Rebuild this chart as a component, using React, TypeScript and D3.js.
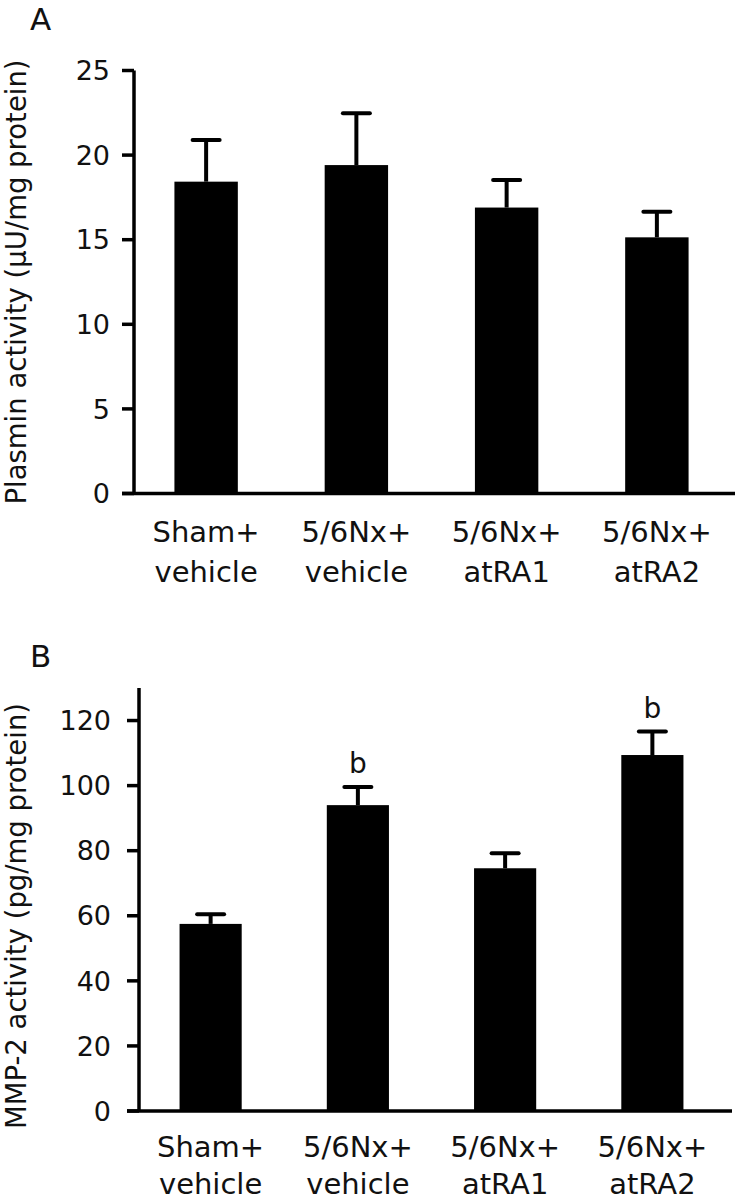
import React from "react";
import * as d3 from "d3";

const categories = ["Sham+|vehicle", "5/6Nx+|vehicle", "5/6Nx+|atRA1", "5/6Nx+|atRA2"];

const plasminMean = [18.43, 19.41, 16.9, 15.14];
const plasminErr = [2.46, 3.06, 1.63, 1.51];
const plasminTicks = [0, 5, 10, 15, 20, 25];

const mmpMean = [57.5, 94.0, 74.6, 109.4];
const mmpErr = [3.0, 5.6, 4.6, 7.2];
const mmpTicks = [0, 20, 40, 60, 80, 100, 120];
const mmpSig = ["", "b", "", "b"];

const FONT = "'DejaVu Sans', sans-serif";
const INK = "#111";

type PanelProps = {
  letter: string;
  letterY: number;
  yLabel: string;
  yLabelCenter: number;
  domainMax: number;
  yRange: [number, number];
  xRange: [number, number];
  axisX: number;
  axisXStart: number;
  axisXEnd: number;
  tickLabelX: number;
  means: number[];
  errs: number[];
  ticks: number[];
  sig?: string[];
  catOffset: number;
  catGap: number;
};

function Panel(p: PanelProps) {
  const y = d3.scaleLinear().domain([0, p.domainMax]).range(p.yRange);
  const x = d3
    .scaleBand<string>()
    .domain(categories)
    .range(p.xRange)
    .paddingInner(0.578)
    .paddingOuter(0.289);
  const bw = x.bandwidth();
  const y0 = y(0);
  const capW = 27;
  return (
    <g>
      <text x={30} y={p.letterY} fontFamily={FONT} fontSize={31} fill={INK}>
        {p.letter}
      </text>
      <text
        transform={`translate(26,${p.yLabelCenter}) rotate(-90)`}
        textAnchor="middle"
        fontFamily={FONT}
        fontSize={27.5}
        fill={INK}
      >
        {p.yLabel}
      </text>
      {categories.map((c, i) => {
        const cx = (x(c) as number) + bw / 2;
        const top = y(p.means[i]);
        const capY = y(p.means[i] + p.errs[i]);
        return (
          <g key={c}>
            <rect x={x(c)} y={top} width={bw} height={y0 - top} fill="#000" />
            <line x1={cx} x2={cx} y1={top} y2={capY} stroke="#000" strokeWidth={4} />
            <line
              x1={cx - capW / 2}
              x2={cx + capW / 2}
              y1={capY}
              y2={capY}
              stroke="#000"
              strokeWidth={4}
              strokeLinecap="round"
            />
            {p.sig && p.sig[i] ? (
              <text
                x={cx}
                y={capY - 14}
                textAnchor="middle"
                fontFamily={FONT}
                fontSize={28}
                fill={INK}
              >
                {p.sig[i]}
              </text>
            ) : null}
            {c.split("|").map((line, k) => (
              <text
                key={k}
                x={cx}
                y={y0 + p.catOffset + k * p.catGap}
                textAnchor="middle"
                fontFamily={FONT}
                fontSize={29}
                fill={INK}
              >
                {line}
              </text>
            ))}
          </g>
        );
      })}
      <line
        x1={p.axisX}
        x2={p.axisX}
        y1={y(p.domainMax)}
        y2={y0}
        stroke="#000"
        strokeWidth={3.5}
      />
      {p.ticks.map((t) => (
        <g key={t}>
          <line
            x1={p.axisXStart}
            x2={p.axisX}
            y1={y(t)}
            y2={y(t)}
            stroke="#000"
            strokeWidth={3.5}
          />
          <text
            x={p.tickLabelX}
            y={y(t)}
            dy="0.36em"
            textAnchor="end"
            fontFamily={FONT}
            fontSize={27}
            fill={INK}
          >
            {t}
          </text>
        </g>
      ))}
      <line
        x1={p.axisXStart}
        x2={p.axisXEnd}
        y1={y0}
        y2={y0}
        stroke="#000"
        strokeWidth={3.5}
      />
    </g>
  );
}

export default function App() {
  return (
    <svg
      width={740}
      height={1201}
      style={{ position: "absolute", left: 0, top: 0, background: "#fff" }}
    >
      <rect width={740} height={1201} fill="#fff" />
      <Panel
        letter="A"
        letterY={30}
        yLabel="Plasmin activity (µU/mg protein)"
        yLabelCenter={282}
        domainMax={25}
        yRange={[493.5, 70.5]}
        xRange={[131, 732]}
        axisX={134}
        axisXStart={122}
        axisXEnd={735}
        tickLabelX={110}
        means={plasminMean}
        errs={plasminErr}
        ticks={plasminTicks}
        catOffset={48}
        catGap={40}
      />
      <Panel
        letter="B"
        letterY={667}
        yLabel="MMP-2 activity (pg/mg protein)"
        yLabelCenter={916}
        domainMax={130}
        yRange={[1111, 688]}
        xRange={[137, 726]}
        axisX={139}
        axisXStart={127}
        axisXEnd={732}
        tickLabelX={111}
        means={mmpMean}
        errs={mmpErr}
        ticks={mmpTicks}
        sig={mmpSig}
        catOffset={46}
        catGap={37}
      />
    </svg>
  );
}
